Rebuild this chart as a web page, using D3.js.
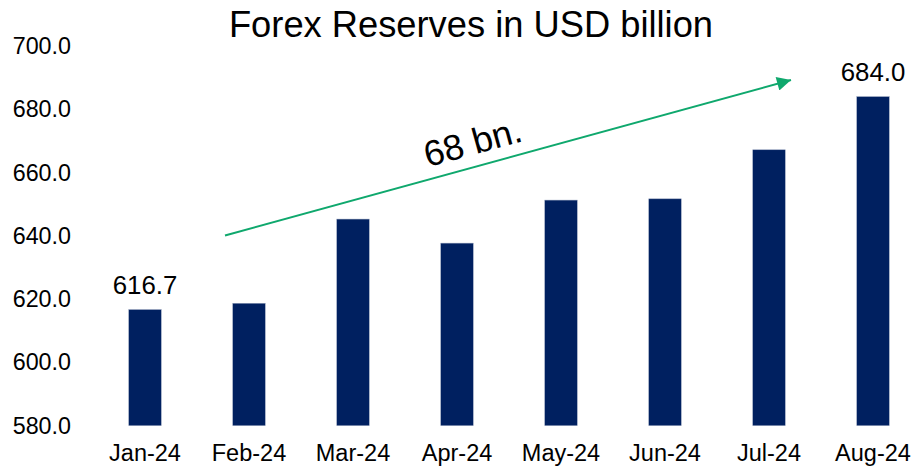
<!DOCTYPE html>
<html>
<head>
<meta charset="utf-8">
<script src="https://cdn.jsdelivr.net/npm/d3@7"></script>
<style>
  html, body { margin: 0; padding: 0; background: #fff; }
  svg { display: block; font-family: "Liberation Sans", Arial, Helvetica, sans-serif; }
</style>
</head>
<body>
<svg id="chart" width="914" height="466"></svg>
<script>
// Monthly forex reserves, USD billion
const months = ["Jan-24", "Feb-24", "Mar-24", "Apr-24", "May-24", "Jun-24", "Jul-24", "Aug-24"];
const reserves = [616.7, 618.7, 645.3, 637.7, 651.3, 651.7, 667.2, 684.0];
const yTicks = [580, 600, 620, 640, 660, 680, 700];
const labelledMonths = ["Jan-24", "Aug-24"];
const title = "Forex Reserves in USD billion";
const growthNote = "68 bn.";

const svg = d3.select("#chart");

const x = d3.scaleBand()
  .domain(months)
  .range([93, 925])
  .paddingInner(0.6875)
  .paddingOuter(0.34375);

const y = d3.scaleLinear()
  .domain([580, 700])
  .range([425.7, 46]);

const navy = "#002060";
const green = "#0fa86d";

// Title
svg.append("text")
  .attr("x", 471)
  .attr("y", 37)
  .attr("text-anchor", "middle")
  .attr("font-size", 36.3)
  .attr("fill", "#000")
  .text(title);

// Y axis (labels only)
const yAxis = d3.axisLeft(y)
  .tickValues(yTicks)
  .tickFormat(d3.format(".1f"))
  .tickSize(0)
  .tickPadding(0);
const gy = svg.append("g")
  .attr("transform", "translate(71,0)")
  .call(yAxis);
gy.select(".domain").remove();
gy.selectAll("text")
  .attr("font-size", 23.3)
  .attr("font-family", "Liberation Sans, Arial, sans-serif")
  .attr("fill", "#000");

// X axis (labels only)
const xAxis = d3.axisBottom(x).tickSize(0).tickPadding(0);
const gx = svg.append("g")
  .attr("transform", "translate(0,444.5)")
  .call(xAxis);
gx.select(".domain").remove();
gx.selectAll("text")
  .attr("font-size", 23.5)
  .attr("font-family", "Liberation Sans, Arial, sans-serif")
  .attr("fill", "#000")
  .attr("dy", "0.72em");

// Bars
const rows = months.map((m, i) => ({ m, v: reserves[i] }));
svg.append("g")
  .selectAll("rect")
  .data(rows)
  .join("rect")
  .attr("x", d => x(d.m))
  .attr("width", x.bandwidth())
  .attr("y", d => y(d.v))
  .attr("height", d => y(580) - y(d.v))
  .attr("fill", navy)
  .attr("stroke", "#9aa6c0")
  .attr("stroke-width", 0.5);

// Value labels on first and last bars
svg.append("g")
  .selectAll("text")
  .data(rows.filter(d => labelledMonths.includes(d.m)))
  .join("text")
  .attr("x", d => x(d.m) + x.bandwidth() / 2)
  .attr("y", d => y(d.v) - 16)
  .attr("text-anchor", "middle")
  .attr("font-size", 25.8)
  .attr("fill", "#000")
  .text(d => d.v.toFixed(1));

// Growth arrow
const defs = svg.append("defs");
defs.append("marker")
  .attr("id", "arrowhead")
  .attr("viewBox", "0 0 10 10")
  .attr("refX", 10)
  .attr("refY", 5)
  .attr("markerUnits", "userSpaceOnUse")
  .attr("markerWidth", 18)
  .attr("markerHeight", 14)
  .attr("orient", "auto")
  .append("path")
  .attr("d", "M0,0 L10,5 L0,10 Z")
  .attr("fill", green);

const arrowStart = [225, 235.5], arrowEnd = [791, 80];
svg.append("line")
  .attr("x1", arrowStart[0]).attr("y1", arrowStart[1])
  .attr("x2", arrowEnd[0]).attr("y2", arrowEnd[1])
  .attr("stroke", green)
  .attr("stroke-width", 2)
  .attr("marker-end", "url(#arrowhead)");

const angle = Math.atan2(arrowEnd[1] - arrowStart[1], arrowEnd[0] - arrowStart[0]) * 180 / Math.PI;
svg.append("text")
  .attr("transform", `translate(476,154) rotate(${angle})`)
  .attr("text-anchor", "middle")
  .attr("font-size", 36)
  .attr("fill", "#000")
  .text(growthNote);
</script>
</body>
</html>
